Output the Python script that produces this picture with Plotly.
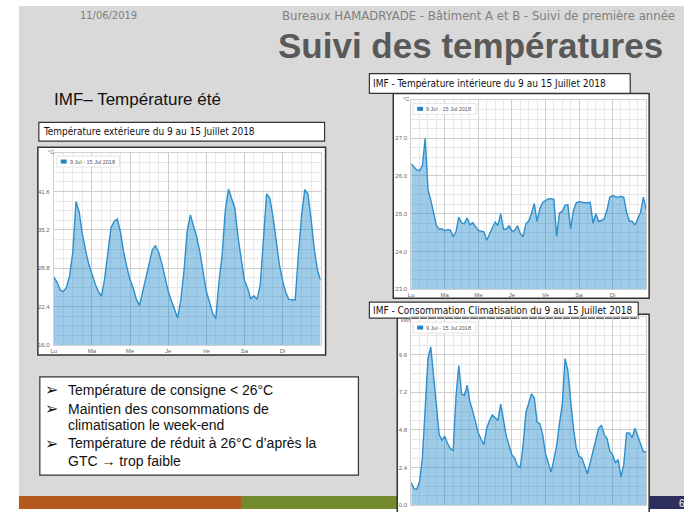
import plotly.graph_objects as go

W, H = 684, 512

# time in hours from Monday 9 July 2018 00:00, one reading every 2 hours
hours = list(range(0, 170, 2))
day_ticks = [0, 24, 48, 72, 96, 120, 144]
day_labels = ["Lu", "Ma", "Me", "Je", "Ve", "Sa", "Di"]

# outdoor temperature (°C)
t_ext = [27.3, 26.5, 25.2, 24.9, 25.6, 27.6, 31.5, 39.9, 38.2, 34.5, 31.8, 29.5,
         27.9, 26.2, 25.0, 24.1, 27.0, 31.8, 35.5, 36.6, 37.0, 34.8, 31.5, 29.0,
         26.9, 25.5, 23.6, 22.6, 25.0, 27.5, 29.8, 31.8, 32.6, 31.5, 29.6, 27.3,
         25.0, 23.4, 21.9, 20.5, 23.5, 28.4, 35.0, 37.7, 35.8, 34.0, 31.5, 28.0,
         25.0, 23.2, 21.3, 20.4, 26.5, 31.0, 38.5, 42.0, 40.5, 38.8, 34.0, 30.5,
         26.8, 25.5, 23.7, 24.2, 23.6, 26.0, 33.5, 41.2, 40.5, 37.5, 33.5, 29.5,
         26.8, 24.8, 23.6, 23.5, 23.5, 31.0, 37.5, 41.9, 41.2, 37.0, 32.0, 28.5,
         26.8]

# indoor temperature (°C)
t_int = [26.32, 26.23, 26.16, 26.14, 26.27, 27.0, 25.64, 25.36, 25.04, 24.69, 24.59, 24.6,
         24.55, 24.58, 24.57, 24.39, 24.52, 24.91, 24.76, 24.74, 24.89, 24.71, 24.76, 24.65,
         24.56, 24.54, 24.52, 24.3, 24.45, 24.62, 24.78, 24.69, 25.0, 24.59, 24.59, 24.68,
         24.54, 24.56, 24.68, 24.48, 24.39, 24.74, 24.8, 25.0, 25.27, 24.8, 25.13, 25.3,
         25.35, 25.39, 25.4, 25.38, 24.4, 25.02, 25.06, 25.22, 25.24, 24.6, 25.09, 25.29,
         25.32, 25.3, 25.29, 25.29, 25.3, 24.75, 25.0, 24.8, 24.82, 24.87, 25.09, 25.44,
         25.48, 25.45, 25.44, 25.46, 25.43, 25.04, 24.8, 24.8, 24.7, 24.87, 25.04, 25.44,
         25.11]

# air-conditioning consumption (kWh)
clim = [1.44, 1.05, 1.0, 1.5, 3.0, 6.4, 9.35, 10.1, 8.4, 6.4, 4.5, 4.14,
        4.4, 3.93, 3.6, 3.5, 6.9, 8.9, 7.1, 7.0, 7.65, 6.6, 6.0, 5.3,
        4.6, 4.2, 3.85, 4.9, 5.4, 5.75, 5.6, 5.4, 6.45, 5.5, 4.4, 3.8,
        3.2, 3.0, 2.5, 2.4, 3.8, 5.9, 6.5, 7.1, 6.85, 5.3, 5.2, 4.5,
        3.3, 2.65, 2.1, 2.9, 3.8, 5.2, 6.4, 9.35, 8.6, 6.7, 4.9, 3.65,
        3.1, 3.0, 2.5, 2.0, 2.7, 3.5, 4.3, 4.9, 5.1, 4.5, 4.25, 3.45,
        3.2, 2.7, 2.9, 1.8, 2.6, 4.6, 4.6, 4.3, 4.9, 4.35, 3.8, 3.4,
        3.4]

ext_ticks = [16.0, 22.4, 28.8, 35.2, 41.6]
int_ticks = [23.0, 24.0, 25.0, 26.0, 27.0]
clim_ticks = [0.0, 2.4, 4.8, 7.2, 9.6]


def fx(x):
    return x / W


def fy(y):
    return 1 - y / H


LINE = "#2f8fca"
FILL = "rgba(40,140,205,0.45)"
SMALL = "Liberation Sans, Arial, sans-serif"
NARROW = "Liberation Sans Narrow, DejaVu Sans Condensed, sans-serif"

fig = go.Figure()

charts = [
    # values, axis suffix, plot-area px box (x0, x1, ytop, ybottom), range, ticks, minor step, show x labels
    (t_ext, "", (51, 319, 154, 347), (16, 48), ext_ticks, 1.6, True),
    (t_int, "2", (410, 646, 101, 291), (23, 28), int_ticks, 0.25, True),
    (clim, "3", (410, 646, 319, 508), (0, 12), clim_ticks, 0.6, False),
]

for vals, s, box, yr, ticks, mstep, showx in charts:
    x0, x1, yt, yb = box
    fig.add_trace(go.Scatter(
        x=hours, y=vals, mode="lines", fill="tozeroy",
        line=dict(color=LINE, width=1.4), fillcolor=FILL,
        xaxis="x" + s, yaxis="y" + s, showlegend=False,
        name="9 Jul - 15 Jul 2018"))
    fig.layout["xaxis" + s] = dict(
        domain=[fx(x0), fx(x1)], range=[0, 168], anchor="y" + s,
        tickmode="array", tickvals=day_ticks, ticktext=day_labels,
        showticklabels=showx,
        showgrid=True, gridcolor="#cdcdcd", gridwidth=1,
        minor=dict(dtick=6, tick0=0, showgrid=True, gridcolor="#e8e8e8"),
        showline=True, linecolor="#d0d0d0", mirror=True, zeroline=False,
        ticks="", tickfont=dict(size=6, color="#666666", family=SMALL),
        fixedrange=True)
    fig.layout["yaxis" + s] = dict(
        domain=[fy(yb), fy(yt)], range=list(yr), anchor="x" + s,
        tickmode="array", tickvals=ticks, ticktext=["%.1f" % v for v in ticks],
        showgrid=True, gridcolor="#cdcdcd", gridwidth=1,
        minor=dict(dtick=mstep, tick0=yr[0], showgrid=True, gridcolor="#e8e8e8"),
        showline=True, linecolor="#d0d0d0", mirror=True, zeroline=False,
        ticks="", tickfont=dict(size=6, color="#666666", family=SMALL),
        ticklabelstandoff=2, fixedrange=True)

shapes = []


def rect(x0, y0, x1, y1, fill, line=None, lw=0, layer="below"):
    shapes.append(dict(type="rect", xref="paper", yref="paper",
                       x0=fx(x0), x1=fx(x1), y0=fy(y1), y1=fy(y0),
                       fillcolor=fill, layer=layer,
                       line=dict(color=line or fill, width=lw)))


# slide background and footer band
rect(16, 6, 684, 500, "#d9d9d9")
rect(16, 499, 240, 512, "#b45a1f")
rect(240, 499, 520, 512, "#738a2e")
rect(520, 499, 684, 512, "#2e2e5c")

# chart frames and title boxes
rect(35, 148, 324, 357, "white", "#333333", 1.5)
rect(36, 123, 323, 142, "white", "#333333", 1.2)
rect(392, 94, 649, 300, "white", "#333333", 1.5)
rect(368, 74, 630, 94, "white", "#333333", 1.2)
rect(396, 316, 649, 520, "white", "#333333", 1.5)
rect(368, 304, 638, 320, "white", "#333333", 1.2)

# text box with remarks
rect(37, 379, 357, 478, "white", "#333333", 1.2)

annotations = []


def text(x, y, s, size, color="#000000", family=SMALL, anchor="left", bold=False):
    if bold:
        s = "<b>" + s + "</b>"
    annotations.append(dict(x=fx(x), y=fy(y), xref="paper", yref="paper",
                            text=s, showarrow=False, xanchor=anchor, yanchor="middle",
                            font=dict(size=size, color=color, family=family)))


# legend boxes inside the plots
for lx, ly in [(54, 157), (412, 104), (412, 324)]:
    rect(lx, ly, lx + 63, ly + 11, "white", "#dddddd", 0.8, layer="above")
    rect(lx + 4, ly + 3.5, lx + 10, ly + 7.5, "#1f82c4", layer="above")
    text(lx + 11, ly + 5.8, "9 Jul - 15 Jul 2018", 5.5, "#555555")

# unit labels
text(48, 153, "°C", 5.5, "#666666", anchor="center")
text(405, 100, "°C", 5.5, "#666666", anchor="center")
text(405, 322, "kWh", 5, "#666666", anchor="center")

# header
text(106, 16, "11/06/2019", 11, "#7f7f7f", NARROW, anchor="center")
text(677, 16, "Bureaux HAMADRYADE - Bâtiment A et B - Suivi de première année",
     13, "#7f7f7f", NARROW, anchor="right")
text(665, 46, "Suivi des températures", 35, "#595959", SMALL, anchor="right", bold=True)
text(49, 100, "IMF– Température été", 17, "#111111", SMALL)

# chart titles
text(38, 132, "Température extérieure du 9 au 15 Juillet 2018", 10, "#111111", NARROW)
text(370, 84, "IMF - Température intérieure du 9 au 15 Juillet 2018", 10, "#111111", NARROW)
text(370, 312, "IMF - Consommation Climatisation du 9 au 15 Juillet 2018", 10, "#111111", NARROW)

# remarks
for y, s in [(392, "Température de consigne < 26°C"),
             (411, "Maintien des consommations de"),
             (446, "Température de réduit à 26°C d’après la")]:
    text(40, y, "➢", 16, "#111111", "DejaVu Sans")
    text(63, y, s, 14, "#111111")
text(63, 428, "climatisation le week-end", 14, "#111111")
text(63, 464, "GTC → trop faible", 14, "#111111")

# page number
text(677, 506, "6", 10, "#ffffff", anchor="left")

fig.update_layout(
    width=W, height=H, margin=dict(l=0, r=0, t=0, b=0),
    paper_bgcolor="white", plot_bgcolor="white",
    shapes=shapes, annotations=annotations, showlegend=False)

fig.write_html("out.html", config={"displayModeBar": False},
               post_script="document.body.style.margin = '0px';")
